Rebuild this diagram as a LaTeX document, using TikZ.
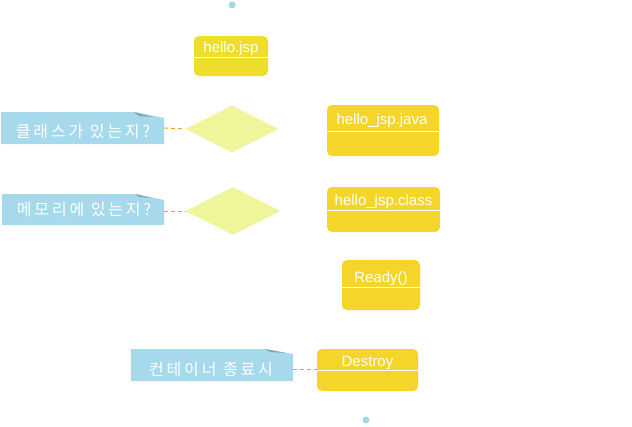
\documentclass[tikz,border=0pt]{standalone}
\usepackage{fontspec}
\setmainfont{Liberation Sans}
\newfontfamily\krfont[LetterSpace=18]{Noto Sans CJK KR}
\usetikzlibrary{shapes.geometric}
\definecolor{boxgold}{HTML}{F5D52A}
\definecolor{boxlemon}{HTML}{EEDD2A}
\definecolor{noteblue}{HTML}{A6D9EC}
\definecolor{notefold}{HTML}{7FA8B4}
\definecolor{diafill}{HTML}{EEF59A}
\definecolor{dashorange}{HTML}{F0A020}
\definecolor{dotcyan}{HTML}{9CDCE0}
\tikzset{
  statebox/.style={rectangle, rounded corners=5pt, fill=boxgold, draw=none, inner sep=0pt},
  boxtext/.style={text=white, font=\fontsize{15}{15}\selectfont, inner sep=0pt, anchor=base},
  notetext/.style={text=white, font=\krfont\fontsize{16}{16}\selectfont, inner sep=0pt, anchor=base},
  divider/.style={white, line width=1pt},
  decision/.style={diamond, fill=diafill, draw=none, inner sep=0pt, aspect=2},
  notefill/.style={fill=noteblue},
  foldfill/.style={fill=notefold},
  link/.style={dashorange, dashed, dash pattern=on 4pt off 3pt, line width=1pt},
  dot/.style={circle, fill=dotcyan, inner sep=0pt, minimum size=7pt}
}
\begin{document}
\begin{tikzpicture}[x=1pt,y=-1pt]
\useasboundingbox (0,0) rectangle (632,426);
% start / end
\node[dot] (start) at (232,5) {};
\node[dot] (end) at (366,420) {};
% hello.jsp
\node[statebox, fill=boxlemon, minimum width=74pt, minimum height=40pt] (jsp) at (231,56) {};
\draw[divider] (jsp.west |- 0,57) -- (jsp.east |- 0,57);
\node[boxtext] (jspt) at (231,52) {hello.jsp};
% java
\node[statebox, minimum width=112pt, minimum height=51pt] (java) at (383,130.5) {};
\draw[divider] (java.west |- 0,131) -- (java.east |- 0,131);
\node[boxtext] (javat) at (382,124) {hello\_jsp.java};
% class
\node[statebox, minimum width=113pt, minimum height=45pt] (cls) at (383.5,209.5) {};
\draw[divider] (cls.west |- 0,210) -- (cls.east |- 0,210);
\node[boxtext] (clst) at (383.5,205) {hello\_jsp.class};
% ready
\node[statebox, minimum width=78pt, minimum height=50pt] (ready) at (381,285) {};
\draw[divider] (ready.west |- 0,287) -- (ready.east |- 0,287);
\node[boxtext] (readyt) at (381,282) {Ready()};
% destroy
\node[statebox, minimum width=101pt, minimum height=42pt] (destroy) at (367.5,370) {};
\draw[divider] (destroy.west |- 0,370) -- (destroy.east |- 0,370);
\node[boxtext] (destroyt) at (367.5,366) {Destroy};
% diamonds
\node[decision, minimum width=93pt, minimum height=47pt] (d1) at (232,129) {};
\node[decision, minimum width=95pt, minimum height=48pt] (d2) at (233,211) {};
% notes
\fill[notefill] (1,112) -- (135,112) -- (164,118) -- (164,144) -- (1,144) -- cycle;
\fill[foldfill] (134,112) -- (153,117) -- (139,116) -- cycle;
\node[notetext] (n1) at (83,137) {클래스가 있는지?};
\coordinate (n1r) at (164,128);
\fill[notefill] (2,194) -- (136,194) -- (164,200) -- (164,225) -- (2,225) -- cycle;
\fill[foldfill] (135,194) -- (152,198) -- (139,197) -- cycle;
\node[notetext] (n2) at (84,215) {메모리에 있는지?};
\coordinate (n2r) at (164,211);
\fill[notefill] (131,349) -- (266,349) -- (293,354) -- (293,381) -- (131,381) -- cycle;
\fill[foldfill] (265,349) -- (286,353) -- (270,352) -- cycle;
\node[notetext] (n3) at (211,375) {컨테이너 종료시};
\coordinate (n3r) at (293,369);
% links
\draw[link] (n1r) -- (d1.west);
\draw[link] (n2r) -- (d2.west);
\draw[link] (n3r) -- (destroy.west |- n3r);
\end{tikzpicture}
\end{document}
